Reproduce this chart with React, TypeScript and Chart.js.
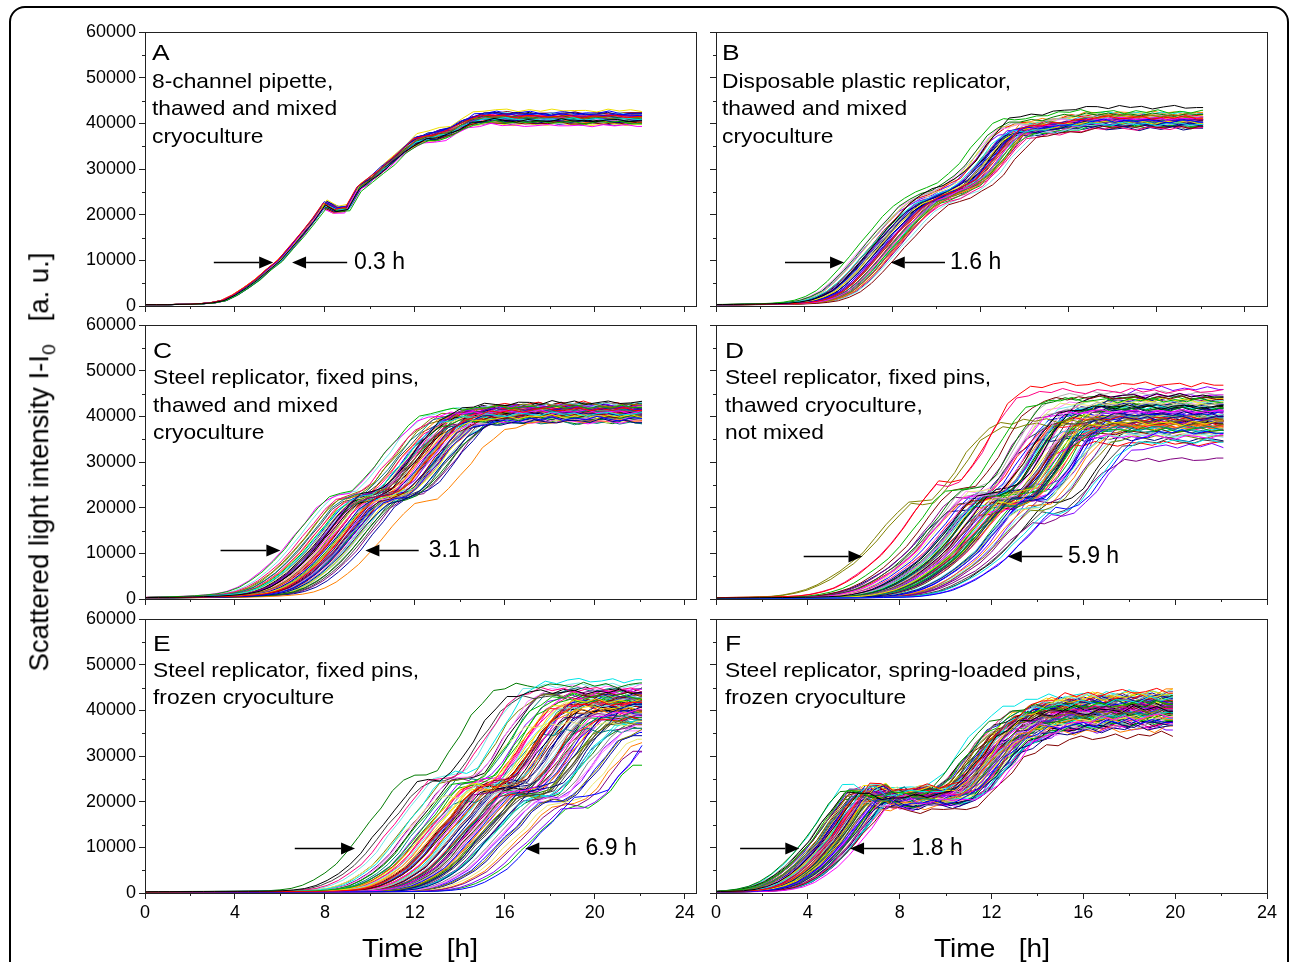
import React, { useEffect, useRef } from 'react';
import { Chart, registerables } from 'chart.js';

Chart.register(...registerables);

const FONT = '"Liberation Sans", Arial, Helvetica, sans-serif';
const AXIS_COLOR = '#222';

// time grid of the representative curves [h]
const HOURS = [
  0, 0.5, 1, 1.5, 2, 2.5, 3, 3.5, 4, 4.5, 5,
  5.5, 6, 6.5, 7, 7.5, 8, 8.5, 9, 9.5, 10, 10.5,
  11, 11.5, 12, 12.5, 13, 13.5, 14, 14.5, 15, 15.5, 16,
  16.5, 17, 17.5, 18, 18.5, 19, 19.5, 20, 20.5, 21, 21.5,
  22, 22.5, 23, 23.5, 24, 24.5, 25, 25.5, 26, 26.5, 27,
];

// representative (median) growth curve of each panel
const A_BASE = [
  300, 300, 300, 350, 400, 500, 700, 1200, 2400, 4000, 5800,
  8000, 10000, 12800, 15800, 18800, 22200, 21000, 21300, 25800, 27500, 29600,
  31700, 33900, 35900, 36800, 37300, 37900, 39200, 40500, 41000, 41200, 41100,
  41000, 41100, 40900, 41000, 41100, 41000, 40900, 41000, 41100, 41000, 40900,
  41000, 41000, 41000, 41000, 41000, 41000, 41000, 41000, 41000, 41000, 41000,
];
const B_BASE = [
  300, 300, 320, 350, 380, 420, 480, 600, 800, 1200, 2000,
  3200, 5200, 7600, 10400, 13200, 16000, 18600, 21000, 22800, 23800, 24800,
  26000, 27500, 30000, 33000, 36000, 38200, 39000, 39200, 39300, 39600, 40200,
  40600, 40700, 40800, 40700, 40700, 40800, 40700, 40700, 40700, 40800, 40700,
  40700, 40700, 40700, 40700, 40700, 40700, 40700, 40700, 40700, 40700, 40700,
];
const C_BASE = [
  300, 300, 320, 340, 380, 420, 480, 560, 680, 850, 1100,
  1600, 2500, 3900, 5700, 7900, 10500, 13500, 16500, 19500, 21500, 22300,
  23000, 25000, 28000, 31000, 34000, 36500, 38300, 39300, 39800, 40000, 40200,
  40300, 40400, 40500, 40400, 40500, 40500, 40600, 40500, 40400, 40500, 40500,
  40500, 40500, 40500, 40500, 40500, 40500, 40500, 40500, 40500, 40500, 40500,
];
const D_BASE = [
  200, 200, 220, 230, 250, 270, 290, 310, 330, 360, 400,
  480, 600, 900, 1400, 2100, 3200, 4600, 6300, 8200, 10500, 13500,
  16500, 19500, 21800, 21800, 22500, 25000, 28500, 32500, 36000, 38300, 39400,
  39800, 40000, 40100, 40000, 40000, 40100, 40000, 40000, 40100, 40000, 40000,
  40000, 40000, 40000, 40000, 40000, 40000, 40000, 40000, 40000, 40000, 40000,
];
const E_BASE = [
  200, 200, 200, 210, 220, 230, 240, 250, 260, 270, 280,
  290, 300, 310, 320, 330, 340, 360, 380, 450, 600, 900,
  1500, 2500, 3900, 5600, 8000, 11000, 13800, 16500, 19500, 22000, 22800,
  22700, 24000, 27000, 30500, 34000, 37000, 39000, 39800, 40100, 40200, 40200,
  40200, 40200, 40200, 40200, 40200, 40200, 40200, 40200, 40200, 40200, 40200,
];
const F_BASE = [
  300, 330, 380, 500, 800, 1400, 2400, 4000, 6000, 8600, 11500,
  15000, 18500, 21500, 22000, 20500, 20500, 21200, 21500, 21000, 21300, 22500,
  24800, 27800, 31000, 33800, 35800, 37200, 38200, 38800, 39200, 39400, 39600,
  39800, 39900, 40000, 40100, 40200, 40300, 40400, 40500, 40500, 40500, 40500,
  40500, 40500, 40500, 40500, 40500, 40500, 40500, 40500, 40500, 40500, 40500,
];

// lag of every well relative to the median curve [h], and its final level [a.u.]
const A_LAG = [0.02, -0.08, 0.11, -0.03, 0.06, -0.12, 0.09, 0.0, -0.05, 0.13, -0.1, 0.04, -0.01, 0.08, -0.14, 0.05, 0.1, -0.06, 0.01, -0.09, 0.12, -0.04, 0.07, -0.11,
  0.03, -0.07, 0.14, -0.02, 0.06, -0.13, 0.09, -0.05, 0.0, 0.11, -0.08, 0.04, -0.1, 0.02, 0.15, -0.03, 0.07, -0.12, 0.05, -0.06, 0.1, -0.01, 0.08, -0.15];
const A_LEVEL = [40600, 41500, 40200, 41900, 40900, 39500, 42800, 41200, 40400, 41700, 40000, 41300, 40800, 42100, 40300, 41000, 41600, 40100, 41400, 39900, 42000, 40700, 41100, 40500,
  41800, 40200, 42300, 40900, 41300, 39800, 41500, 40600, 41000, 42200, 40400, 41200, 39900, 40800, 41700, 40300, 41100, 40000, 41900, 40500, 41400, 40700, 42000, 40100];

const B_LAG = [-0.2, 0.3, -0.95, 0.1, -0.5, 0.5, -0.1, 0.7, -0.4, 0.2, 1.05, -0.7, 0.4, 0.0, 0.8, -0.3, 0.6, -0.6, 0.2, -0.1, 0.9, -0.8, 0.3,
  0.0, -0.4, 0.5, -0.2, 0.7, 0.1, -0.6, 0.4, -0.3, 0.9, 0.2, -0.5, 0.6, -0.1, 0.3, -0.7, 0.8, 0.0, -0.2, 0.5, -0.4, 0.1, 0.7, -0.3, 0.4];
const B_LEVEL = [43500, 41200, 42500, 40500, 39800, 41000, 40200, 41600, 39500, 40800, 39200, 41900, 40400, 39900, 41300, 40600, 38900, 41500, 40100, 42000, 39700, 40900, 41100,
  40300, 41700, 39400, 40700, 42200, 39600, 41400, 40000, 38800, 41800, 40500, 39300, 41100, 40800, 42300, 39900, 40600, 41200, 39100, 40400, 41600, 39700, 40900, 40200, 41000];

const C_LAG = [-0.4, 0.3, -1.8, 0.6, -0.9, -1.9, 0.1, -0.2, 0.8, -0.6, 0.4, 1.1, -1.2, 0.0, 2.0, -0.5, -1.5, 0.5, 0.2, -0.8, 0.9, -0.1, 1.3,
  -0.7, 0.3, -1.0, 0.6, 0.0, -0.3, 1.0, -1.4, 0.4, -0.6, 0.7, 0.1, -0.9, 1.6, -0.2, 0.5, -1.1, 0.2, 0.8, -0.4, -1.6, 0.3, 1.2, -0.5, 0.0,
  0.6, -0.8, 0.9, -0.3, 0.2, -1.3, 0.4, 1.4, -0.1, -0.7, 0.7, 0.1, -1.0, 0.5, -0.4, 1.0, -0.2, 0.3, -0.6, 0.8, -1.2, 0.0, 0.6, -0.5];
const C_LEVEL = [43000, 41500, 42000, 39500, 40500, 41000, 40000, 42500, 39000, 41800, 40200, 39800, 41200, 40600, 39000, 42200, 40800, 39600, 41400, 40400, 42600, 39200, 41000,
  40700, 42000, 39500, 41600, 40300, 38800, 41900, 40500, 42300, 39700, 41100, 40900, 38600, 41700, 40100, 42400, 39900, 41300, 40600, 38900, 42100, 40400, 41500, 39400, 42800,
  40800, 41200, 39600, 42000, 40300, 41700, 39300, 40900, 41400, 38700, 42500, 40000, 41100, 39800, 42200, 40500, 41600, 39100, 40700, 41900, 40200, 42700, 39500, 41300];

const D_LAG = [-0.6, -2.3, -2.0, 2.8, 2.4, -1.2, 0.3, -3.6, 0.9, 1.8, -1.7, -0.2, 0.5, 1.3, 0.8, 2.6, -2.4, -0.4, 0.1, -1.0, 1.1, -0.8, -1.5, 0.2,
  -0.9, 0.6, 1.5, -0.3, 0.0, 1.0, -3.5, -0.7, 2.0, 0.4, -1.3, 0.7, -0.1, 1.6, -0.5, 0.9, -1.1, 0.3, 1.2, -0.6, 0.1, 2.2, -0.2, -1.4,
  0.5, 1.4, -0.9, 0.2, -0.4, 1.7, 0.6, -1.6, 0.0, 1.1, -0.3, 0.8, -0.8, 1.9, 0.4, -1.2, 0.7, -0.1, 1.3, -0.7, 0.2, 2.5, -0.5, 0.9,
  -1.0, 0.3, 1.5, -0.2, 0.6, -1.9, 1.0, 0.1, -0.6, 1.2, -0.4, 0.5, 2.1, -0.9, 0.0, 0.8, -0.3, 1.6, -1.1, 0.4, 0.7, -0.1, 1.4, 0.2];
const D_LEVEL = [42000, 47000, 43500, 36500, 34500, 41000, 38500, 39000, 40500, 30500, 44000, 41500, 37500, 39500, 38000, 33500, 45500, 42500, 40000, 43000, 36000, 41000, 38500, 44500,
  39500, 37000, 40500, 42000, 35500, 43500, 38000, 41500, 39000, 36500, 44000, 40000, 42500, 37500, 41000, 38500, 45000, 39500, 36000, 43000, 40500, 34500, 42000, 38000,
  41500, 39000, 37000, 44500, 40000, 35500, 43500, 41000, 38500, 42500, 36500, 40500, 39500, 46000, 37500, 41500, 38000, 43000, 40000, 36000, 42000, 39000, 34000, 44000,
  40500, 37500, 41000, 38500, 42500, 35000, 43500, 39500, 40000, 36500, 41500, 38000, 44500, 37000, 42000, 39000, 40500, 35500, 43000, 41000, 38500, 37500, 42500, 39500];

const E_LAG = [-3.4, -0.8, -1.9, 3.6, -2.2, 0.4, -1.4, 0.9, 1.6, 2.7, -0.5, -4.0, 0.2, 1.2, -1.0, 3.0, -2.9, -0.2, 0.6, -2.6, -1.2, 1.8, -3.2, -0.6,
  0.1, -1.6, 0.8, 1.4, -0.3, -1.1, 2.1, 0.5, -0.9, 0.0, 1.0, -1.8, 0.3, -0.4, 1.9, -1.3, 0.7, -0.7, 2.4, -0.1, -2.0, 1.1, 0.4, -1.5,
  0.2, -0.6, 1.5, -1.0, 0.9, -2.4, 0.0, 1.3, -0.8, 0.6, -1.7, 2.2, -0.3, 0.8, -1.2, 0.1, 1.7, -0.5, -2.7, 0.5, 1.2, -0.9, 0.3, -1.4,
  2.0, -0.2, 0.7, -1.1, 1.0, -0.4, -2.1, 0.4, 1.4, -0.7, 0.0, 2.6, -1.6, 0.6, -0.1, 1.1, -1.3, 0.2, 1.8, -0.6, -1.9, 0.9, 3.2, -0.3];
const E_LEVEL = [44000, 41500, 43000, 38000, 46500, 39500, 42000, 37500, 40500, 34000, 43500, 45500, 38500, 41000, 40000, 33000, 44500, 39000, 42500, 37000, 41000, 36500, 43000, 40000,
  38000, 42000, 39500, 37500, 44000, 40500, 36000, 41500, 39000, 42500, 38500, 35500, 43500, 40000, 37000, 41500, 39500, 42000, 35000, 43000, 45000, 38000, 40500, 41000,
  39000, 42500, 37500, 44000, 40000, 43500, 41000, 36500, 42000, 39500, 44500, 36000, 41500, 38500, 43000, 40000, 37000, 42500, 45500, 39000, 38000, 41000, 40500, 43500,
  35500, 42000, 39500, 41500, 37500, 40000, 44000, 38500, 36500, 42500, 41000, 34500, 43000, 39000, 40500, 38000, 42000, 40000, 36000, 41500, 44500, 39500, 33500, 42000];

const F_LAG = [-0.3, 0.2, -0.8, 0.5, -0.1, 1.3, 0.4, -0.5, 0.7, 0.0, 0.9, -1.1, -0.6, 0.3, 0.1, 0.6, 1.0, -0.2, -0.7, 0.8, 0.2, -0.4, 0.5, -0.9,
  0.0, 0.6, -0.3, 1.1, -0.1, 0.4, -0.6, 0.8, 0.2, -0.8, 0.3, 1.2, -0.4, 0.1, 0.7, -0.2, 0.5, -1.0, 0.9, 0.0, -0.5, 0.4, 0.6, -0.3,
  0.2, -0.7, 1.0, 0.1, -0.1, 0.7, -0.6, 0.3, 0.5, -0.9, 0.8, 0.0, -0.4, 0.6, 1.1, -0.2, 0.2, -0.8, 0.4, 0.9, -0.5, 0.1, 0.3, -0.3,
  0.7, -1.0, 0.5, 0.0, -0.2, 1.2, 0.2, -0.6, 0.4, 0.8, -0.4, 0.1, 0.6, -0.7, 0.3, 1.0, -0.1, 0.5, -0.5, 0.2, 0.9, -0.3, 0.0, 0.4];
const F_LEVEL = [40500, 44500, 41500, 38000, 42500, 39000, 43500, 40000, 37500, 41000, 34900, 42000, 39500, 43000, 38500, 40500, 41500, 37000, 42500, 39000, 44000, 38000, 40000,
  41000, 43000, 37500, 42000, 39500, 40500, 38500, 41500, 36500, 43500, 40000, 39000, 42000, 38000, 44000, 40500, 37000, 41000, 39500, 42500, 38500, 40000, 43000, 37500, 41500,
  39000, 42000, 38000, 40500, 44000, 39500, 37000, 41000, 42500, 38500, 40000, 43500, 36000, 41500, 39000, 42000, 38000, 40500, 43000, 37500, 41000, 39500, 42500, 38500,
  40000, 44000, 37000, 41500, 39000, 42000, 38500, 40500, 43500, 37500, 41000, 39500, 36500, 42500, 40000, 38000, 41500, 43000, 39000, 40500, 37500, 42000, 38500, 41000];

// measurement noise pattern (fraction of the noise amplitude)
const JITTER = [0.3, -0.5, 0.8, -0.2, -0.9, 0.4, 0.1, -0.6, 0.9, -0.3, 0.5, -0.8, 0.2, 0.7, -0.4, -0.1, 0.6, -0.7, 0.3, -0.2, 0.9, -0.5, 0.0, 0.4, -0.9, 0.6, -0.3, 0.8, -0.6];

// arrows: [left tail, left tip, right tip, right tail, level, label x]
const ARROW_A = [3.06, 5.7, 6.54, 8.99, 9700, 9.29];
const ARROW_B = [3.13, 5.81, 7.93, 10.39, 9700, 10.62];
const ARROW_C = [3.36, 6.02, 9.8, 12.17, 10800, 12.62];
const ARROW_D = [3.82, 6.38, 12.71, 15.09, 9480, 15.33];
const ARROW_E = [6.66, 9.34, 16.91, 19.3, 9770, 19.59];
const ARROW_F = [1.05, 3.63, 5.84, 8.19, 9850, 8.52];
const SPREAD_LABELS = ['0.3 h', '1.6 h', '3.1 h', '5.9 h', '6.9 h', '1.8 h'];

const X_TICKS = [0, 4, 8, 12, 16, 20, 24];
const X_MINOR = [2, 6, 10, 14, 18, 22];
const Y_TICKS = [0, 10000, 20000, 30000, 40000, 50000, 60000];
const Y_MINOR = [5000, 15000, 25000, 35000, 45000, 55000];

const PANEL_TEXT = [
  ['8-channel pipette,', 'thawed and mixed', 'cryoculture'],
  ['Disposable plastic replicator,', 'thawed and mixed', 'cryoculture'],
  ['Steel replicator, fixed pins,', 'thawed and mixed', 'cryoculture'],
  ['Steel replicator, fixed pins,', 'thawed cryoculture,', 'not mixed'],
  ['Steel replicator, fixed pins,', 'frozen cryoculture'],
  ['Steel replicator, spring-loaded pins,', 'frozen cryoculture'],
];
const PANEL_LETTERS = ['A', 'B', 'C', 'D', 'E', 'F'];

const PALETTE = ['#000000', '#FF0000', '#00B400', '#0000FF', '#00E5E5', '#FF00FF', '#F0E000', '#808000', '#000080', '#800080',
  '#800000', '#007A00', '#008080', '#0000A0', '#FF8000', '#8000FF', '#FF0080', '#B0B0B0', '#808080', '#E8E870', '#70E8E8', '#FF80FF', '#404040'];

// layout
const Y_AXIS_W = 140;
const PAD_TOP = 20;
const PAD_RIGHT = 20;
const PLOT_W = 551;
const PLOT_H = 274;

const PANELS = [
  { left: 145, top: 32, xMax: 24.5, xLabels: false, yLabels: true, base: A_BASE, lag: A_LAG, level: A_LEVEL, amp: 350, tEnd: 22.1, arrow: ARROW_A },
  { left: 716, top: 32, xMax: 25, xLabels: false, yLabels: false, base: B_BASE, lag: B_LAG, level: B_LEVEL, amp: 450, tEnd: 22.1, arrow: ARROW_B },
  { left: 145, top: 325, xMax: 24.5, xLabels: false, yLabels: true, base: C_BASE, lag: C_LAG, level: C_LEVEL, amp: 500, tEnd: 22.1, arrow: ARROW_C },
  { left: 716, top: 325, xMax: 24, xLabels: false, yLabels: false, base: D_BASE, lag: D_LAG, level: D_LEVEL, amp: 600, tEnd: 22.1, arrow: ARROW_D },
  { left: 145, top: 619, xMax: 24.5, xLabels: true, yLabels: true, base: E_BASE, lag: E_LAG, level: E_LEVEL, amp: 700, tEnd: 22.1, arrow: ARROW_E },
  { left: 716, top: 619, xMax: 24, xLabels: true, yLabels: false, base: F_BASE, lag: F_LAG, level: F_LEVEL, amp: 900, tEnd: 19.9, arrow: ARROW_F },
];

// text placement (baselines in page px)
const TEXT_POS = [
  { x: 152, letter: 61, lines: [87.5, 115, 142.5] },
  { x: 722, letter: 61, lines: [87.5, 115, 142.5] },
  { x: 153, letter: 359, lines: [384, 411.5, 439] },
  { x: 725, letter: 359, lines: [384, 411.5, 439] },
  { x: 153, letter: 651.7, lines: [677, 704] },
  { x: 725, letter: 651.7, lines: [677, 704] },
];

type Pt = { x: number; y: number };

function buildCurves(base: number[], lags: number[], levels: number[], tEnd: number, amp: number): Pt[][] {
  const plateau = base[base.length - 1];
  const n = Math.min(lags.length, levels.length);
  const curves: Pt[][] = [];
  for (let i = 0; i < n; i++) {
    const k = levels[i] / plateau;
    const pts: Pt[] = [];
    for (let j = 0; j < HOURS.length; j++) {
      const x = HOURS[j] + lags[i];
      if (x < 0 || x > tEnd) continue;
      const jit = JITTER[(j + i * 7) % JITTER.length] * amp * (base[j] / plateau);
      if (pts.length === 0 && x > 0) pts.push({ x: 0, y: base[0] * k });
      pts.push({ x, y: base[j] * k + jit });
    }
    const last = pts[pts.length - 1];
    if (last && last.x < tEnd) pts.push({ x: tEnd, y: last.y });
    curves.push(pts);
  }
  return curves;
}

function PanelChart({ p, idx }: { p: any; idx: number }) {
  const ref = useRef<HTMLCanvasElement | null>(null);
  const xAxisH = p.xLabels ? 44 : 14;
  const W = Y_AXIS_W + PLOT_W + PAD_RIGHT;
  const H = PAD_TOP + PLOT_H + xAxisH;

  useEffect(() => {
    const canvas = ref.current;
    if (!canvas) return;
    const curves = buildCurves(p.base, p.lag, p.level, p.tEnd, p.amp);
    const arrow = p.arrow as number[];
    const label = SPREAD_LABELS[idx];

    const framePlugin = {
      id: 'frame' + idx,
      afterDatasetsDraw(chart: any) {
        const { ctx, chartArea: a, scales } = chart;
        const xs = scales.x;
        const ys = scales.y;
        ctx.save();
        ctx.strokeStyle = AXIS_COLOR;
        ctx.lineWidth = 1;
        ctx.beginPath();
        for (const v of X_MINOR) {
          const px = Math.round(xs.getPixelForValue(v)) + 0.5;
          ctx.moveTo(px, a.bottom);
          ctx.lineTo(px, a.bottom + 3);
        }
        for (const v of Y_MINOR) {
          const py = Math.round(ys.getPixelForValue(v)) + 0.5;
          ctx.moveTo(a.left - 3, py);
          ctx.lineTo(a.left, py);
        }
        ctx.stroke();
        ctx.strokeRect(Math.round(a.left) + 0.5, Math.round(a.top) + 0.5, Math.round(a.right - a.left), Math.round(a.bottom - a.top));
        const yy = Math.round(ys.getPixelForValue(arrow[4])) + 0.5;
        const drawArrow = (x0: number, x1: number) => {
          const dir = Math.sign(x1 - x0);
          const hl = 14;
          const hw = 6;
          ctx.strokeStyle = '#000';
          ctx.fillStyle = '#000';
          ctx.lineWidth = 1.4;
          ctx.beginPath();
          ctx.moveTo(x0, yy);
          ctx.lineTo(x1 - dir * hl, yy);
          ctx.stroke();
          ctx.beginPath();
          ctx.moveTo(x1, yy);
          ctx.lineTo(x1 - dir * hl, yy - hw);
          ctx.lineTo(x1 - dir * hl, yy + hw);
          ctx.closePath();
          ctx.fill();
        };
        drawArrow(xs.getPixelForValue(arrow[0]), xs.getPixelForValue(arrow[1]));
        drawArrow(xs.getPixelForValue(arrow[3]), xs.getPixelForValue(arrow[2]));
        ctx.font = '23px ' + FONT;
        ctx.textBaseline = 'middle';
        ctx.textAlign = 'left';
        ctx.fillStyle = '#000';
        ctx.fillText(label, xs.getPixelForValue(arrow[5]), yy);
        ctx.restore();
      },
    };

    const tickFont = { family: FONT, size: 18 };
    const config = (): any => ({
      type: 'line',
      data: {
        datasets: curves.map((pts, i) => ({
          data: pts,
          borderColor: PALETTE[i % PALETTE.length],
          borderWidth: 1,
          pointRadius: 0,
          pointHoverRadius: 0,
          fill: false,
          tension: 0,
        })),
      },
      options: {
        animation: false,
        responsive: false,
        maintainAspectRatio: false,
        events: [],
        parsing: false,
        layout: { padding: { top: PAD_TOP, right: PAD_RIGHT, left: 0, bottom: 0 } },
        plugins: { legend: { display: false }, tooltip: { enabled: false } },
        scales: {
          x: {
            type: 'linear',
            min: 0,
            max: p.xMax,
            afterBuildTicks: (s: any) => {
              s.ticks = X_TICKS.map((v) => ({ value: v }));
            },
            afterFit: (s: any) => {
              s.height = xAxisH;
            },
            ticks: {
              callback: (v: any) => (p.xLabels ? String(v) : ''),
              font: tickFont,
              color: '#000',
              padding: 3,
              maxRotation: 0,
              autoSkip: false,
            },
            grid: { display: true, drawOnChartArea: false, drawTicks: true, tickLength: 6, color: AXIS_COLOR, lineWidth: 1 },
            border: { display: true, color: AXIS_COLOR, width: 1 },
          },
          y: {
            type: 'linear',
            min: 0,
            max: 60000,
            afterBuildTicks: (s: any) => {
              s.ticks = Y_TICKS.map((v) => ({ value: v }));
            },
            afterFit: (s: any) => {
              s.width = Y_AXIS_W;
            },
            ticks: {
              callback: (v: any) => (p.yLabels ? String(v) : ''),
              font: tickFont,
              color: '#000',
              padding: 3,
              autoSkip: false,
            },
            grid: { display: true, drawOnChartArea: false, drawTicks: true, tickLength: 6, color: AXIS_COLOR, lineWidth: 1 },
            border: { display: true, color: AXIS_COLOR, width: 1 },
          },
        },
      },
      plugins: [framePlugin],
    });

    const setSize = (w: number, h: number) => {
      canvas.width = w;
      canvas.height = h;
      canvas.style.width = w + 'px';
      canvas.style.height = h + 'px';
    };
    let w = W;
    let h = H;
    setSize(w, h);
    let chart = new Chart(canvas, config());
    let ca = chart.chartArea;
    const dw = Math.round(PLOT_W - (ca.right - ca.left));
    const dh = Math.round(PLOT_H - (ca.bottom - ca.top));
    if (dw !== 0 || dh !== 0) {
      chart.destroy();
      w += dw;
      h += dh;
      setSize(w, h);
      chart = new Chart(canvas, config());
      ca = chart.chartArea;
    }
    canvas.style.left = p.left - Math.round(ca.left) + 'px';
    canvas.style.top = p.top - Math.round(ca.top) + 'px';
    return () => chart.destroy();
  }, []);

  return (
    <canvas
      ref={ref}
      width={W}
      height={H}
      style={{ position: 'absolute', left: p.left - Y_AXIS_W, top: p.top - PAD_TOP, width: W, height: H }}
    />
  );
}

function Txt({ x, base, size, sx = 1, center = false, children }: any) {
  const top = base - 0.8465 * size;
  return (
    <div
      style={{
        position: 'absolute',
        left: x,
        top,
        fontFamily: FONT,
        fontSize: size,
        lineHeight: `${size}px`,
        whiteSpace: 'pre',
        color: '#000',
        transform: center ? `translateX(-50%) scaleX(${sx})` : `scaleX(${sx})`,
        transformOrigin: center ? '50% 50%' : '0 50%',
      }}
    >
      {children}
    </div>
  );
}

export default function App() {
  return (
    <div style={{ position: 'fixed', left: 0, top: 0, width: 1290, height: 962, overflow: 'hidden', background: '#fff' }}>
      <div
        style={{
          position: 'absolute',
          left: 9,
          top: 6,
          width: 1280,
          height: 1100,
          border: '2px solid #000',
          borderRadius: 16,
          boxSizing: 'border-box',
        }}
      />
      {PANELS.map((p, i) => (
        <PanelChart key={i} p={p} idx={i} />
      ))}
      {TEXT_POS.map((t, i) => (
        <React.Fragment key={'t' + i}>
          <Txt x={t.x} base={t.letter} size={22} sx={1.2}>
            {PANEL_LETTERS[i]}
          </Txt>
          {PANEL_TEXT[i].map((line, j) => (
            <Txt key={j} x={t.x} base={t.lines[j]} size={21} sx={1.086}>
              {line}
            </Txt>
          ))}
        </React.Fragment>
      ))}
      <Txt x={420} base={956.7} size={26} sx={1.08} center>
        {'Time   [h]'}
      </Txt>
      <Txt x={991.5} base={956.7} size={26} sx={1.08} center>
        {'Time   [h]'}
      </Txt>
      <div
        style={{
          position: 'absolute',
          left: 39,
          top: 462,
          transform: 'translate(-50%, -50%) rotate(-90deg)',
          fontFamily: FONT,
          fontSize: 27.5,
          lineHeight: '27.5px',
          whiteSpace: 'pre',
          color: '#000',
        }}
      >
        Scattered light intensity I-I<sub style={{ fontSize: '0.7em', lineHeight: 0 }}>0</sub>
        {'   [a. u.]'}
      </div>
    </div>
  );
}
